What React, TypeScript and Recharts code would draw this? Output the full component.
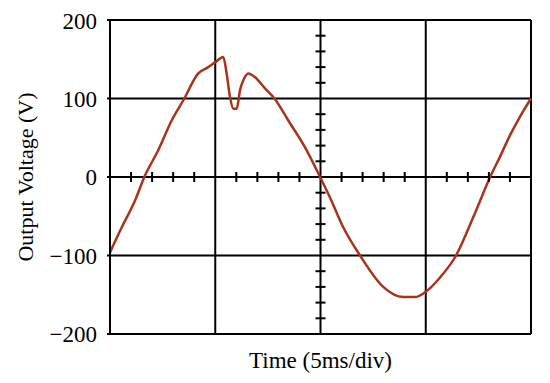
import { LineChart, Line, XAxis, YAxis, ReferenceLine, ReferenceDot, Label } from "recharts";

// Time in ms (5 ms/div)
const times = [
  0, 0.56, 1.19, 1.63, 2.29, 2.93, 3.53, 4.19, 4.67, 4.99, 5.38, 5.54, 5.7, 5.86, 6.02, 6.18,
  6.33, 6.57, 6.89, 7.36, 7.84, 8.47, 9.26, 9.98, 10.45, 11.08, 11.88, 12.98, 13.92, 14.49,
  14.96, 15.68, 16.44, 17.26, 18.06, 18.53, 19.0, 19.48, 20,
];
// Output voltage in V
const volts = [
  -96, -64, -30, 0, 34, 72, 100, 132, 140, 146, 153, 132, 102, 87, 87, 111,
  123, 132, 127, 113, 99, 72, 38, 0, -26, -64, -100, -140, -153, -153,
  -147, -128, -100, -51, 0, 26, 53, 77, 100,
];

const xTicks = [0, 5, 10, 15, 20];
const yTicks = [-200, -100, 0, 100, 200];
const xMinor = [1, 2, 3, 4, 6, 7, 8, 9, 11, 12, 13, 14, 16, 17, 18, 19];
const yMinor = [-180, -160, -140, -120, -80, -60, -40, -20, 20, 40, 60, 80, 120, 140, 160, 180];

const data = times.map((t, i) => ({ t, v: volts[i] }));

const font = "'Liberation Serif', 'Times New Roman', serif";

const fmtY = (v: number) => (v < 0 ? `\u2212${-v}` : `${v}`);

// small tick crossing the centre axes
const hTick = (p: any) => (
  <line x1={p.cx} x2={p.cx} y1={p.cy - 5} y2={p.cy + 5} stroke="#000" strokeWidth={2} />
);
const vTick = (p: any) => (
  <line x1={p.cx - 5} x2={p.cx + 5} y1={p.cy} y2={p.cy} stroke="#000" strokeWidth={2} />
);

const YTitle = (props: any) => {
  const { viewBox } = props;
  const cx = 17;
  const cy = viewBox.y + viewBox.height / 2;
  return (
    <text
      x={cx}
      y={cy}
      transform={`rotate(-90 ${cx} ${cy})`}
      textAnchor="middle"
      dominantBaseline="central"
      fontFamily={font}
      fontSize={22}
      fill="#000"
    >
      Output Voltage (V)
    </text>
  );
};

export default function App() {
  return (
    <LineChart
      width={542}
      height={375}
      data={data}
      margin={{ top: 12, right: 19, bottom: 0, left: 0 }}
    >
      <XAxis
        dataKey="t"
        type="number"
        domain={[0, 20]}
        ticks={xTicks}
        tick={false}
        tickSize={3}
        height={49}
        axisLine={{ stroke: "#000", strokeWidth: 2 }}
        tickLine={{ stroke: "#000", strokeWidth: 2 }}
      >
        <Label
          value="Time (5ms/div)"
          position="insideTop"
          offset={18}
          style={{ fontFamily: font, fontSize: 23, fill: "#000" }}
        />
      </XAxis>
      <YAxis
        type="number"
        domain={[-200, 200]}
        ticks={yTicks}
        width={102}
        tickSize={3}
        tickMargin={10}
        tickFormatter={fmtY}
        tick={{ fontFamily: font, fontSize: 23, fill: "#000" }}
        axisLine={{ stroke: "#000", strokeWidth: 2 }}
        tickLine={{ stroke: "#000", strokeWidth: 2 }}
        label={<YTitle />}
      />
      {xTicks.map((t) => (
        <ReferenceLine key={`gx${t}`} x={t} stroke="#000" strokeWidth={2} />
      ))}
      {yTicks.map((v) => (
        <ReferenceLine key={`gy${v}`} y={v} stroke="#000" strokeWidth={2} />
      ))}
      {xMinor.map((t) => (
        <ReferenceDot key={`xm${t}`} x={t} y={0} r={0} shape={hTick} />
      ))}
      {yMinor.map((v) => (
        <ReferenceDot key={`ym${v}`} x={10} y={v} r={0} shape={vTick} />
      ))}
      <Line
        type="monotone"
        dataKey="v"
        stroke="#a8341a"
        strokeWidth={2.5}
        dot={false}
        isAnimationActive={false}
      />
    </LineChart>
  );
}
